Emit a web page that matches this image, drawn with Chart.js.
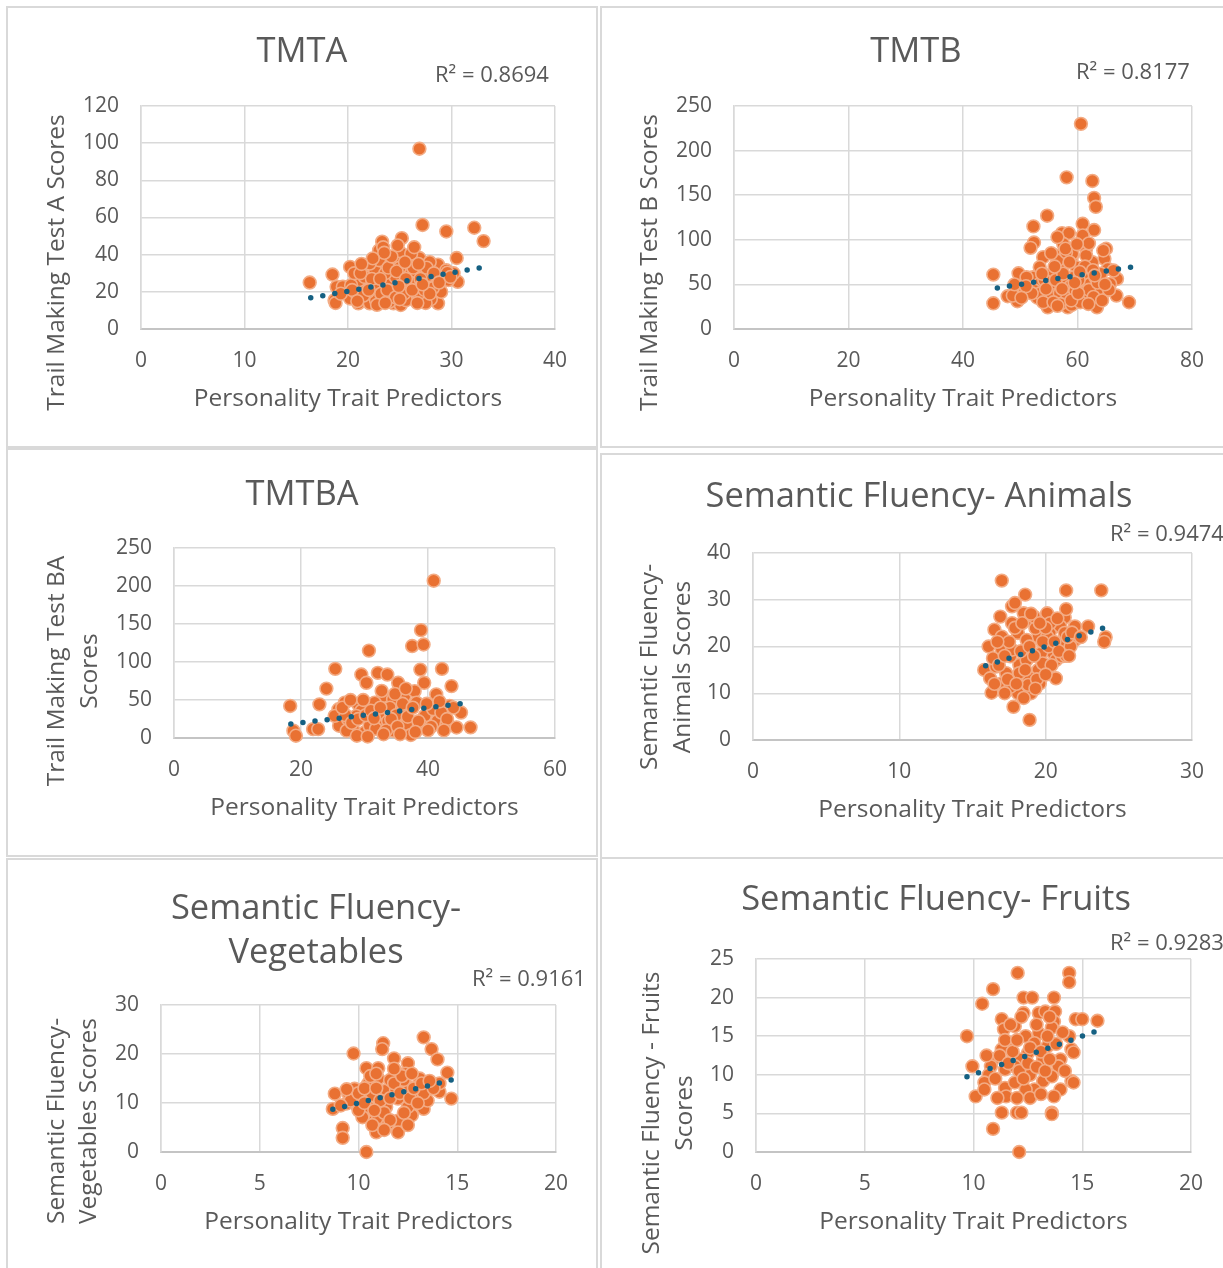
<!DOCTYPE html>
<html>
<head>
<meta charset="utf-8">
<script src="https://cdn.jsdelivr.net/npm/chart.js@4.4.1/dist/chart.umd.min.js"></script>
<style>
  html, body { margin: 0; padding: 0; background: #fff; }
  #page { position: relative; width: 1223px; height: 1268px; overflow: hidden; background: #fff; }
  .panel { position: absolute; border: 2px solid #d9d9d9; box-sizing: border-box; background: #fff; }
  .panel canvas { position: absolute; left: 0; top: 0; }
</style>
</head>
<body>
<div id="page"></div>
<script>
// ---- data ----
var tmtaX = [26.9,27.2,29.5,32.2,33.1,16.3,18.5,20.2,21.4,23.3,25.2,25.1,24.0,30.5,30.6,28.7,27.1,26.9,28.7,18.7,18.9,19.7,20.2,21.0,22.1,22.1,23.0,23.0,22.9,24.0,24.3,24.4,24.4,25.1,25.6,26.2,25.9,27.5,28.0,28.6,27.2,21.8,21.1,22.6,25.3,23.7,26.6,27.9,29.5,20.8,19.5,23.7,22.6,24.9,23.0,26.1,22.1,21.6,20.3,22.7,24.0,25.6,26.6,24.6,28.9,29.7,23.4,24.8,18.8,27.5,26.4,23.6,25.0,21.9,20.6,27.8,29.0,30.2,29.6,
  21.5,22.5,23.2,23.8,24.6,25.4,26.0,26.8,27.4,28.2,22.3,23.9,24.7,25.6,26.3,27.0,27.6,28.3,21.2,20.4,19.3,20.9,22.8,23.6,25.0,26.7,27.9,24.2,25.5,26.8,23.5,22.4,21.3,28.8,29.9,24.9,23.1,22.0,26.2,27.2];
var tmtaY = [97,56,52.5,54.5,47.3,25,29.3,33.4,32.9,47,48.9,40.9,37.9,38.2,25.4,34.6,32.9,38.2,13.8,15.5,22.7,21.8,16.4,13.8,17.3,13.8,42.3,32.5,28,28,28.9,20.9,13.8,12.9,20.9,16.4,29.8,24.5,16,23.6,17.3,22.7,26.3,31.6,24.5,17.3,28,36,31.6,19.1,22.7,24.5,20.9,35.2,37,40.5,35.2,28,23.6,15.5,14.6,15.5,22.7,28,28,26.3,44,45,14,14,44,30,33,20,30,29,20,30,30.3,
  18,24,19,21,17,19,25,19,21,22,27,33,31,27,33,27,33,30,30,21,19,15,13,14,16,14,19,39,36,35,41,38,35,25,28,23,27,21,21,24];
var tmtaTrendX = [16.4, 32.7];
var tmtaTrendY = [16.8, 32.9];

var tmtbX = [60.6,58.1,62.6,62.9,63.2,54.7,52.3,60.9,62.9,57.3,58.5,52.4,51.8,60.9,57.5,56.2,54.0,59.0,61.5,65.0,64.7,45.3,45.3,49.7,47.8,49.5,50.8,52.2,53.4,55.2,55.2,54.6,56.6,57.2,59.2,60.4,59.8,61.6,63.4,64.6,66.9,66.8,69.0,65.3,62.6,59.1,56.5,53.4,51.1,52.5,56.6,58.1,61.0,62.2,56.5,58.0,54.8,59.3,63.1,65.7,58.3,61.7,48.7,66.3,61.5,53.0,57.8,60.0,55.8,63.8,49.0,64.5,62.0,
  53.5,54.2,55.0,55.6,56.2,56.9,57.5,58.2,58.8,59.6,60.2,60.8,61.3,62.0,62.8,63.5,64.1,57.0,59.0,60.5,54.0,52.0,51.0,56.0,58.6,60.4,62.7,64.3,65.5,55.4,57.9,59.9,53.8,50.2,
  55.8,57.3,58.9,60.1,61.9,63.0,64.8,56.5,59.5,54.5];
var tmtbY = [230,170,166,147,137,127,115,118,111,107.5,107.5,97,91,105,95.5,82.4,80.5,80.5,90,90,78.7,61,28.8,62.5,36.7,31.1,43,58,69.3,58,28.1,33.7,44.9,69.3,33.7,48.7,69.3,61.8,24.3,41.2,56.2,37.5,30,67.4,74.9,84.3,103,50.6,58,43.1,35.6,43.1,41.2,50.6,76.8,86.1,24.3,58,58,50.6,24.3,30,37.5,65.5,82.4,35,52,38,64,45,50,88,96,
  40,55,47,38,55,40,62,35,48,43,55,35,70,44,36,52,62,28,27,30,30,40,48,70,75,64,66,32,44,85,90,95,62,35,
  30,45,32,40,28,60,50,26,52,45];
var tmtbTrendX = [46.0, 69.3];
var tmtbTrendY = [46.0, 69.3];

var tmtbaX = [40.9,38.9,37.5,39.3,30.7,25.4,42.2,38.8,24.0,29.5,32.1,33.6,30.3,35.3,39.4,43.7,18.3,22.9,18.8,19.2,21.9,22.7,25.9,26.9,29.0,31.1,32.9,34.5,36.3,37.9,41.3,41.5,42.9,45.2,46.7,44.5,37.9,34.5,31.9,30.0,28.2,26.0,25.3,27.4,29.5,32.2,34.0,35.9,38.2,39.5,40.8,43.4,42.1,36.6,39.0,33.2,30.8,27.2,28.8,31.6,29.5,28.7,37.3,33.7,35.0,
  27.0,28.0,29.0,30.2,31.0,31.8,32.5,33.4,34.2,35.2,36.0,36.8,37.6,38.5,39.8,40.5,41.8,43.0,44.0,26.5,27.8,29.8,31.5,33.0,35.6,38.0,40.0,42.5,30.5,34.8,36.5,32.7];
var tmtbaY = [207,142,121,123,115,91,91,90,65,83.5,85.7,83.5,72.6,72.6,72.6,68.3,42.2,44.3,9.6,3,11.7,11.7,37.8,46.5,44.3,44.3,55.2,50.9,55.2,61.7,57.4,22.6,18.3,33.5,14,13.9,16.1,9.6,20.4,7.4,11.7,16.1,29.1,24.8,33.5,29.1,40,37.8,46.5,29.1,37.8,42.2,33.5,18.3,16.1,18.3,16.1,9.6,3,46.5,35.7,29.1,4,22,30,
  30,20,25,30,36,12,40,10,25,15,45,28,40,22,45,15,48,25,40,40,50,50,26,5,5,8,10,10,2,58,65,62];
var tmtbaTrendX = [18.4, 45.1];
var tmtbaTrendY = [18.5, 45.0];

var animalsX = [17.0,18.6,21.4,23.8,24.1,24.0,18.9,17.8,16.3,16.1,15.8,16.5,17.7,17.9,18.5,20.1,21.3,17.0,18.1,18.9,19.5,20.3,21.0,22.0,22.9,22.0,21.2,20.5,20.7,20.7,19.5,19.6,18.8,18.2,17.6,17.0,16.6,16.2,17.0,18.1,19.0,17.7,18.7,19.7,20.1,19.3,17.7,16.9,20.3,21.3,19.8,18.2,17.3,18.7,20.2,21.7,19.2,16.4,17.6,18.8,21.1,21.4,21.4,
  16.8,17.2,17.5,17.9,18.3,18.6,18.9,19.2,19.4,19.8,20.0,20.4,20.6,20.9,21.5,21.8,17.4,18.0,18.4,19.0,19.6,20.8,16.5,17.2,18.5,19.3,20.0,21.6,22.4,16.7];
var animalsY = [34.1,31.1,32,32,22,21,4.3,7.1,10.1,20,15,23.6,28.6,29.3,27.1,27.1,26.2,22.1,22.9,25.7,22.1,23.2,24.3,24.3,24.3,21.4,20.7,18.6,17.1,13.2,15,12.1,13.6,16.1,17.9,19.3,15.7,13.2,12.1,10,10,19.3,21.4,18.6,22.1,23.9,25,26.4,25,22.9,16.4,14.3,14.3,17.1,20,20,26.4,17.5,11.4,11.8,17.9,28,18,
  16,18,21,24,19,15,20,18,13,21,24,16,21,19,22,23,13,12,25,27,25,26,12,10,9,11,14,18,22,21];
var animalsTrendX = [15.9, 23.9];
var animalsTrendY = [15.9, 23.9];

var vegX = [13.3,13.7,14.0,11.25,11.2,9.75,11.8,12.5,14.5,14.7,14.1,10.4,9.2,9.2,8.8,8.7,10.4,11.0,11.9,12.4,11.0,10.5,9.8,9.5,10.2,9.8,10.5,11.4,12.0,12.9,12.5,13.4,13.3,12.7,12.0,12.0,10.9,10.8,10.2,11.4,11.9,12.5,11.0,11.5,10.7,9.4,10.0,11.6,12.3,13.5,13.1,14.1,13.3,
  9.6,10.0,10.3,10.6,10.9,11.1,11.3,11.6,11.8,12.1,12.3,12.6,12.8,13.0,13.2,10.3,10.8,11.6,12.2,12.7,13.8,9.4,9.1,10.7,11.3,12.5,13.6,11.8,10.9];
var vegY = [23.4,21,18.9,22.2,21,20.1,19.1,18.1,16.2,10.9,12.3,0,4.9,2.9,11.9,8.8,17.1,17.1,16.4,16,15,14,12.9,11.9,11.2,9.9,9.2,9.2,10.9,11.2,13.3,13.3,8.8,7.5,6.4,4.0,4.0,6.4,7.1,12.6,12.6,9.2,7.1,5.8,11.6,9.9,8.5,14.7,14.7,10.5,15,14,12,
  10.5,12,13,15.5,13,10.5,8,11,14,12,8,11,13,10,14,10,8.5,6.5,15.5,16,13,12.8,9.5,5.5,4.5,5.5,14.5,17,16];
var vegTrendX = [8.7, 14.7];
var vegTrendY = [8.7, 14.7];

var fruitsX = [12.03,14.4,14.4,10.9,10.4,12.3,12.7,13.7,9.7,9.95,10.1,10.9,12.1,11.3,12.0,12.2,13.6,12.3,13.0,13.3,13.75,13.7,11.3,11.4,11.9,12.4,13.0,13.6,14.4,14.7,15.0,14.5,14.0,13.9,13.2,12.5,11.6,11.3,10.9,10.8,10.7,10.5,10.5,11.45,11.45,11.5,11.9,12.6,13.2,13.6,14.0,14.5,13.7,12.8,12.4,12.2,12.8,11.9,13.4,11.45,15.7,14.6,14.6,13.6,
  11.0,11.2,11.6,11.8,12.0,12.1,12.3,12.5,12.6,12.9,13.1,13.3,13.5,13.8,14.1,12.0,12.6,13.1,11.7,12.9,13.4,11.1,14.2,10.6,12.2,13.5];
var fruitsY = [23.2,23.2,22,21.1,19.2,20,20,20,15,11.1,7.2,3,0,5.1,5.1,5.1,5.1,18,18,18.2,18.2,16.9,17.2,15.9,16.3,15,15.4,16.1,15,17.2,17.2,13.3,12,11.1,12,12.8,14.1,13.3,12,11.1,10,9,8.1,10.7,8.3,7.2,9,10,9.2,9.8,8.1,9.2,7.2,8.1,8.1,12,14.1,11.1,13.7,14.5,17,12.9,9,4.9,
  9.5,12.5,11.5,13,14.5,10.5,9.5,11.5,13.5,11,13,10.5,12,14,15.5,7,7,7.5,16.5,16.5,15,7,10.5,12.5,17.5,17.5];
var fruitsTrendX = [9.7, 15.55];
var fruitsTrendY = [9.75, 15.55];

var xAxisTitle = 'Personality Trait Predictors';

// ---- layout of the six panels (page pixels) ----
var panels = [
  { box: [6, 6, 592, 442], plot: [141, 106, 555, 329], xMax: 40, xStep: 10, yMax: 120, yStep: 20,
    xs: tmtaX, ys: tmtaY, tx: tmtaTrendX, ty: tmtaTrendY,
    title: ['TMTA'], titleX: 302, titleBase: [62], r2: 'R\u00B2 = 0.8694', r2Pos: [435, 82],
    yTitle: ['Trail Making Test A Scores'], yTitleBase: [64], yTitleMid: 262.5 },
  { box: [600, 6, 640, 442], plot: [734, 106, 1192, 329], xMax: 80, xStep: 20, yMax: 250, yStep: 50,
    xs: tmtbX, ys: tmtbY, tx: tmtbTrendX, ty: tmtbTrendY,
    title: ['TMTB'], titleX: 916, titleBase: [62], r2: 'R\u00B2 = 0.8177', r2Pos: [1076, 79],
    yTitle: ['Trail Making Test B Scores'], yTitleBase: [656.5], yTitleMid: 262.5 },
  { box: [6, 448, 592, 409], plot: [174, 548, 555, 738], xMax: 60, xStep: 20, yMax: 250, yStep: 50,
    xs: tmtbaX, ys: tmtbaY, tx: tmtbaTrendX, ty: tmtbaTrendY,
    title: ['TMTBA'], titleX: 302, titleBase: [505], r2: null, r2Pos: null,
    yTitle: ['Trail Making Test BA', 'Scores'], yTitleBase: [64, 96.5], yTitleMid: 671 },
  { box: [600, 453, 640, 406], plot: [753, 553, 1192, 740], xMax: 30, xStep: 10, yMax: 40, yStep: 10,
    xs: animalsX, ys: animalsY, tx: animalsTrendX, ty: animalsTrendY,
    title: ['Semantic Fluency- Animals'], titleX: 919, titleBase: [507], r2: 'R\u00B2 = 0.9474', r2Pos: [1110, 541],
    yTitle: ['Semantic Fluency-', 'Animals Scores'], yTitleBase: [656.5, 689.5], yTitleMid: 667 },
  { box: [6, 858, 592, 420], plot: [161, 1005, 556, 1152], xMax: 20, xStep: 5, yMax: 30, yStep: 10,
    xs: vegX, ys: vegY, tx: vegTrendX, ty: vegTrendY,
    title: ['Semantic Fluency-', 'Vegetables'], titleX: 316, titleBase: [919, 963], r2: 'R\u00B2 = 0.9161', r2Pos: [472, 985.5],
    yTitle: ['Semantic Fluency-', 'Vegetables Scores'], yTitleBase: [64, 96], yTitleMid: 1121 },
  { box: [600, 857, 640, 420], plot: [756, 959, 1191, 1152], xMax: 20, xStep: 5, yMax: 25, yStep: 5,
    xs: fruitsX, ys: fruitsY, tx: fruitsTrendX, ty: fruitsTrendY,
    title: ['Semantic Fluency- Fruits'], titleX: 936, titleBase: [910], r2: 'R\u00B2 = 0.9283', r2Pos: [1110, 949.5],
    yTitle: ['Semantic Fluency - Fruits', 'Scores'], yTitleBase: [658.5, 692], yTitleMid: 1113 }
];

var fontFamily = "'Open Sans', sans-serif";
var textColor = '#595959';
var dotSpacing = 12.3;

function textPlugin(p, ox, oy) {
  return {
    id: 'panelText',
    afterDraw: function(chart) {
      var ctx = chart.ctx;
      ctx.save();
      ctx.fillStyle = textColor;
      ctx.textBaseline = 'alphabetic';
      ctx.textAlign = 'center';
      ctx.font = '34.5px ' + fontFamily;
      p.title.forEach(function(t, i) { ctx.fillText(t, p.titleX - ox, p.titleBase[i] - oy); });
      if (p.r2) {
        ctx.textAlign = 'left';
        ctx.font = '22px ' + fontFamily;
        ctx.fillText(p.r2, p.r2Pos[0] - ox, p.r2Pos[1] - oy);
      }
      ctx.font = '24.5px ' + fontFamily;
      ctx.textAlign = 'center';
      p.yTitle.forEach(function(t, i) {
        ctx.save();
        ctx.translate(p.yTitleBase[i] - ox, p.yTitleMid - oy);
        ctx.rotate(-Math.PI / 2);
        ctx.fillText(t, 0, 0);
        ctx.restore();
      });
      ctx.restore();
    }
  };
}

var page = document.getElementById('page');

panels.forEach(function(p) {
  var div = document.createElement('div');
  div.className = 'panel';
  div.style.left = p.box[0] + 'px';
  div.style.top = p.box[1] + 'px';
  div.style.width = p.box[2] + 'px';
  div.style.height = p.box[3] + 'px';
  var cv = document.createElement('canvas');
  var cw = p.box[2] - 4, ch = p.box[3] - 4;
  cv.width = cw; cv.height = ch;
  cv.style.width = cw + 'px'; cv.style.height = ch + 'px';
  div.appendChild(cv);
  page.appendChild(div);

  var ox = p.box[0] + 2, oy = p.box[1] + 2;
  var L = p.plot[0] - ox, T = p.plot[1] - oy, R = p.plot[2] - ox, B = p.plot[3] - oy;
  var xH = ch - B;

  var chart = new Chart(cv, {
    type: 'scatter',
    data: {
      datasets: [
        {
          label: 'Trend',
          data: p.tx.map(function(x, i) { return { x: x, y: p.ty[i] }; }),
          showLine: true,
          borderColor: '#156082',
          borderWidth: 5.5,
          borderDash: [0, dotSpacing],
          borderCapStyle: 'round',
          pointRadius: 0,
          fill: false,
          order: 0
        },
        {
          label: 'Scores',
          data: p.xs.map(function(x, i) { return { x: x, y: p.ys[i] }; }),
          backgroundColor: '#E97132',
          borderColor: '#F3AC85',
          borderWidth: 1.6,
          pointRadius: 6.4,
          clip: false,
          order: 1
        }
      ]
    },
    options: {
      responsive: false,
      animation: false,
      devicePixelRatio: 1,
      layout: { padding: { left: 0, top: T, right: cw - R, bottom: 0 } },
      plugins: { legend: { display: false }, tooltip: { enabled: false } },
      scales: {
        x: {
          type: 'linear', min: 0, max: p.xMax,
          ticks: { stepSize: p.xStep, color: textColor, font: { family: fontFamily, size: 21 }, padding: 19.4 },
          grid: { color: '#d9d9d9', lineWidth: 1.5, drawTicks: false },
          border: { color: '#c4c4c4', width: 2 },
          title: { display: true, text: xAxisTitle, color: textColor, font: { family: fontFamily, size: 24.5 },
                   padding: { top: 0, bottom: xH - 70.5 - 14.7 } },
          afterFit: function(s) { s.height = xH; }
        },
        y: {
          type: 'linear', min: 0, max: p.yMax,
          ticks: { stepSize: p.yStep, color: textColor, font: { family: fontFamily, size: 21 }, padding: 22 },
          grid: { color: '#d9d9d9', lineWidth: 1.5, drawTicks: false },
          border: { color: '#d9d9d9', width: 1.5 },
          afterFit: function(s) { s.width = L; }
        }
      }
    },
    plugins: [textPlugin(p, ox, oy)]
  });

  // even out the dot gap so the dotted trendline ends on a dot
  var sx = chart.scales.x, sy = chart.scales.y;
  var dx = sx.getPixelForValue(p.tx[1]) - sx.getPixelForValue(p.tx[0]);
  var dy = sy.getPixelForValue(p.ty[1]) - sy.getPixelForValue(p.ty[0]);
  var len = Math.sqrt(dx * dx + dy * dy);
  var n = Math.max(1, Math.round(len / dotSpacing));
  chart.data.datasets[0].borderDash = [0, len / n - 0.02];
  chart.update('none');
});
</script>
</body>
</html>
